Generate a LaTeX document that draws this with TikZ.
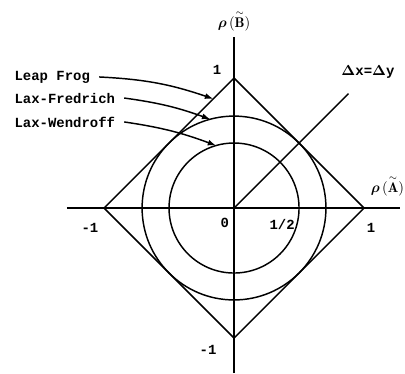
\documentclass[tikz,border=0pt]{standalone}
\usepackage{amsmath,amssymb}
\usepackage{fontspec}
\newfontfamily\labfont{Liberation Mono}
\usepackage{tikz}
\usetikzlibrary{arrows.meta}

\begin{document}
\begin{tikzpicture}[
  x=3.44cm, y=3.44cm,
  font=\labfont\bfseries\fontsize{10.5}{12}\selectfont,
  curve/.style={line width=1.1pt},
  scheme/.style={anchor=west, inner sep=1pt},
  axlab/.style={inner sep=1pt},
  ar/.style={-{Latex[length=2.2mm, width=1.6mm]}, line width=1.1pt}
]
  \useasboundingbox (-1.8,-1.269) rectangle (1.315,1.6);
  % axes
  \coordinate (o) at (0,0);
  \draw[curve] (-1.285,0) -- (1.277,0);
  \draw[curve] (0,-1.27) -- (0,1.315);
  % stability regions
  \draw[curve] (1,0) -- (0,1) -- (-1,0) -- (0,-1) -- cycle;
  \draw[curve] (o) circle (0.707);
  \draw[curve] (o) circle (0.5);
  \coordinate (diag) at (0.88,0.88);
  \draw[curve] (o) -- (diag);
  % axis labels
  \node[axlab] (rb) at (0,1.44) {$\boldsymbol{\rho}\,(\overset{\sim}{\mathbf{B}})$};
  \node[axlab] (ra) at (1.18,0.17) {$\boldsymbol{\rho}\,(\overset{\sim}{\mathbf{A}})$};
  \node[axlab] (dxy) at (1.03,1.046) {$\boldsymbol{\Delta}$x=$\boldsymbol{\Delta}$y};
  \node[axlab] (t1) at (-0.13,1.06) {1};
  \node[axlab] (tm1l) at (-1.108,-0.154) {-1};
  \node[axlab] (t0) at (-0.07,-0.115) {0};
  \node[axlab] (thalf) at (0.37,-0.123) {1/2};
  \node[axlab] (t1r) at (1.054,-0.154) {1};
  \node[axlab] (tm1b) at (-0.2,-1.09) {-1};
  % scheme labels
  \node[scheme] (lf) at (-1.70,1.008) {Leap Frog};
  \node[scheme] (lxf) at (-1.70,0.846) {Lax-Fredrich};
  \node[scheme] (lxw) at (-1.70,0.662) {Lax-Wendroff};
  \coordinate (plf) at (-0.16,0.84);
  \coordinate (plxf) at (105:0.707);
  \coordinate (plxw) at (106:0.5);
  \draw[ar] ([xshift=2mm]lf.east) to[bend left=8] (plf);
  \draw[ar] ([xshift=2mm]lxf.east) to[bend left=6] (plxf);
  \draw[ar] ([xshift=2mm]lxw.east) to[bend left=6] (plxw);
\end{tikzpicture}
\end{document}
